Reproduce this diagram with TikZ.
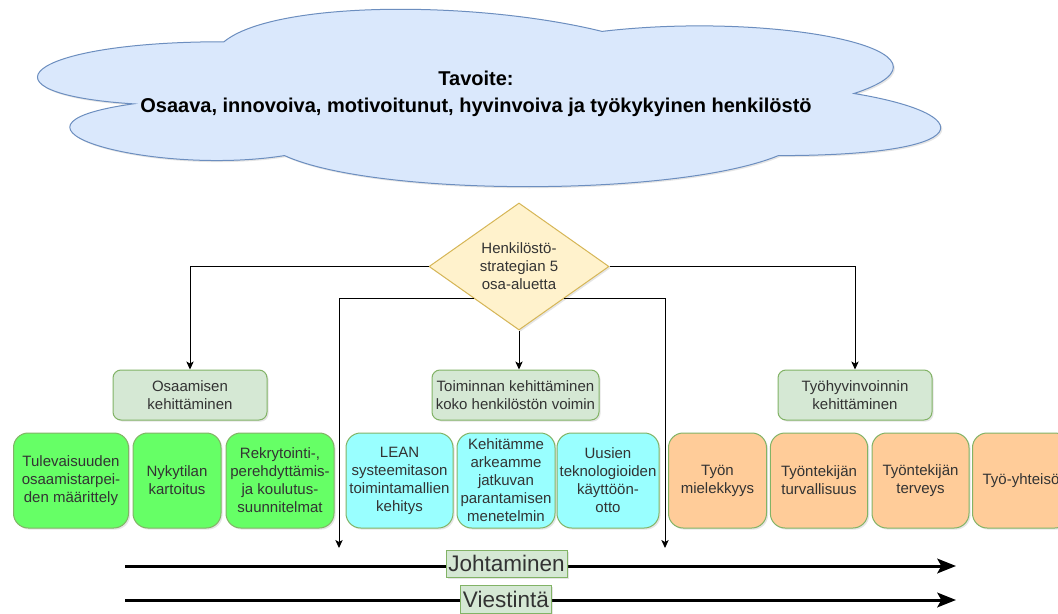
\documentclass[tikz,border=0pt]{standalone}
\usepackage{fontspec}
\setmainfont{Liberation Sans}
\usetikzlibrary{shapes.geometric,arrows.meta,shadows}

\definecolor{cloudfill}{HTML}{DAE8FC}
\definecolor{clouddraw}{HTML}{6C8EBF}
\definecolor{decfill}{HTML}{FFF2CC}
\definecolor{decdraw}{HTML}{D6B656}
\definecolor{catfill}{HTML}{D5E8D4}
\definecolor{catdraw}{HTML}{82B366}
\definecolor{osagreen}{HTML}{66FF66}
\definecolor{toicyan}{HTML}{99FFFF}
\definecolor{hyvorange}{HTML}{FFCC99}
\definecolor{txtgray}{HTML}{333333}

\tikzset{
  boxshadow/.style={drop shadow={opacity=0.2, shadow xshift=1.2pt, shadow yshift=-1.2pt}},
  smalltxt/.style={font=\fontsize{11.25}{13.5}\selectfont, text=txtgray},
  cat/.style={draw=catdraw, fill=catfill, rounded corners=6pt, align=center, smalltxt,
    minimum height=37.5pt, inner sep=0pt, line width=0.75pt, boxshadow},
  item/.style={draw=catdraw, rounded corners=11pt, align=center, smalltxt,
    minimum height=71.25pt, inner sep=0pt, line width=0.75pt, boxshadow},
  link/.style={line width=0.75pt, -{Stealth[length=6pt, width=5.5pt, inset=1.5pt]}},
  bar/.style={line width=2.25pt, -{Stealth[length=14pt, width=11pt, inset=3pt]}},
  barlabel/.style={draw=catdraw, fill=catfill, inner sep=0pt, line width=0.75pt,
    font=\fontsize{16.9}{20}\selectfont, text=txtgray, boxshadow}
}

\begin{document}
\begin{tikzpicture}[x=0.75pt, y=-0.75pt]
    \useasboundingbox (0,0) rectangle (1058,614);
    \clip (0,0) rectangle (1058,614);

    \fill[white] (0,0) rectangle (1058,614);

    \draw[draw=clouddraw, fill=cloudfill, line width=0.75pt, boxshadow]
      (224,41.75) .. controls (22.4,41.75) and (-28,93.5) .. (133.3,103.85)
      .. controls (-28,126.6) and (153.4,176.3) .. (284.5,155.6)
      .. controls (375.2,197) and (677.6,197) .. (778.4,155.6)
      .. controls (980,155.6) and (980,114.2) .. (854,93.5)
      .. controls (980,52.1) and (778.4,10.7) .. (602,31.4)
      .. controls (476,0.35) and (274.4,0.35) .. (224,41.75) -- cycle;
    \node[align=center, font=\bfseries\fontsize{15}{20.25}\selectfont] (goal) at (476,93.5)
      {Tavoite:\\Osaava, innovoiva, motivoitunut, hyvinvoiva ja työkykyinen henkilöstö};

    \node[diamond, draw=decdraw, fill=decfill, line width=0.75pt, inner sep=0pt,
      minimum width=135pt, minimum height=95.25pt, align=center, smalltxt, boxshadow]
      (dia) at (519,266.5) {Henkilöstö-\\strategian 5\\osa-aluetta};

    \node[cat, minimum width=115.5pt] (osa) at (190,395) {Osaamisen\\kehittäminen};
    \node[cat, minimum width=125.25pt] (toim) at (515.5,395) {Toiminnan kehittäminen\\koko henkilöstön voimin};
    \node[cat, minimum width=115.5pt] (hyv) at (855,395) {Työhyvinvoinnin\\kehittäminen};

    \node[item, fill=osagreen, minimum width=86.25pt] (tul) at (71,480.5) {Tulevaisuuden\\osaamistarpei-\\den määrittely};
    \node[item, fill=osagreen, minimum width=66pt] (nyk) at (177,480.5) {Nykytilan\\kartoitus};
    \node[item, fill=osagreen, minimum width=81pt] (rek) at (280,480.5) {Rekrytointi-,\\perehdyttämis-\\ja koulutus-\\suunnitelmat};

    \node[item, fill=toicyan, minimum width=80.25pt] (lean) at (399.5,480.5) {LEAN\\systeemitason\\toimintamallien\\kehitys};
    \node[item, fill=toicyan, minimum width=73.5pt] (keh) at (506,480.5) {Kehitämme\\arkeamme\\jatkuvan\\parantamisen\\menetelmin};
    \node[item, fill=toicyan, minimum width=76.5pt] (uus) at (608,480.5) {Uusien\\teknologioiden\\käyttöön-\\otto};

    \node[item, fill=hyvorange, minimum width=73.5pt] (tyon) at (717.5,480.5) {Työn\\mielekkyys};
    \node[item, fill=hyvorange, minimum width=73pt] (turv) at (819,480.5) {Työntekijän\\turvallisuus};
    \node[item, fill=hyvorange, minimum width=72.75pt] (terv) at (920.5,480.5) {Työntekijän\\terveys};
    \node[item, fill=hyvorange, minimum width=72.75pt] (tyoy) at (1021,480.5) {Työ-yhteisö};

    \coordinate (jl) at (339,548);
    \coordinate (jr) at (665,548);
    \draw[link] (dia.west) -| (osa.north);
    \draw[link] (dia.east) -| (hyv.north);
    \draw[link] (dia.south) -- (dia.south |- toim.north);
    \draw[link] (dia.south west) -| (jl);
    \draw[link] (dia.south east) -| (jr);

    \coordinate (js) at (125,566);
    \coordinate (je) at (956,566);
    \coordinate (vs) at (125,600);
    \coordinate (ve) at (956,600);
    \draw[bar] (js) -- (je);
    \draw[bar] (vs) -- (ve);
    \node[barlabel, minimum width=90.75pt, minimum height=20.25pt] (joh) at (506.5,563.5) {Johtaminen};
    \node[barlabel, minimum width=68.25pt, minimum height=21pt] (vie) at (506,599) {Viestintä};
\end{tikzpicture}
\end{document}
